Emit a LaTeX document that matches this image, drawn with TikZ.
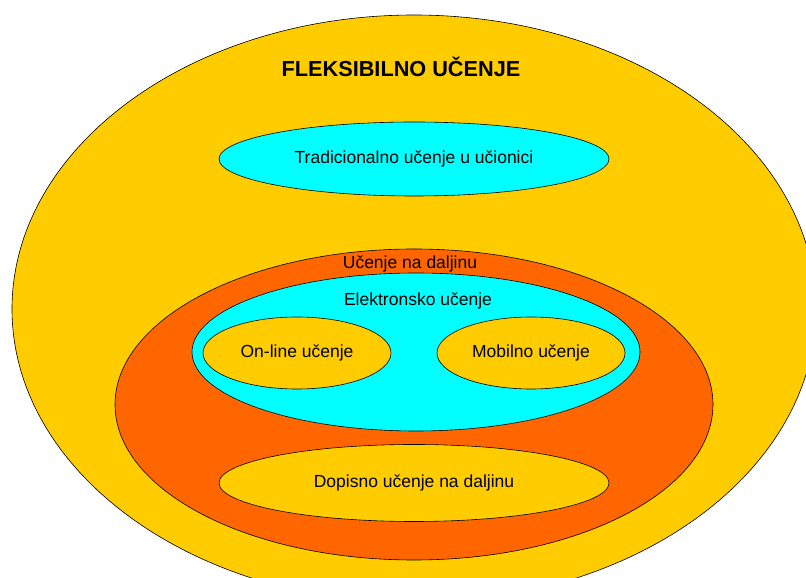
\documentclass[tikz,border=0pt]{standalone}
\usepackage{fontspec}
\setmainfont{Liberation Sans}
\usepackage{tikz}
\usetikzlibrary{shapes.geometric}
\definecolor{flexYellow}{HTML}{FFCC00}
\definecolor{distOrange}{HTML}{FF6600}
\definecolor{elCyan}{HTML}{00FFFF}
\begin{document}
\begin{tikzpicture}[x=1pt,y=1pt,font=\fontsize{17.5}{20}\selectfont,
  area/.style={draw,ellipse,line width=0.6pt,inner sep=0pt}]
\useasboundingbox (0,0) rectangle (806,578);
\clip (0,0) rectangle (806,578);
% flexible learning
\node[area,fill=flexYellow,minimum width=804,minimum height=588] (flex) at (414,269) {};
\node[font=\fontsize{21.7}{24}\selectfont\bfseries] (flexT) at (401,511) {FLEKSIBILNO UČENJE};
\node[area,fill=elCyan,minimum width=390,minimum height=74] (trad) at (414,419) {Tradicionalno učenje u učionici};
% distance learning
\node[area,fill=distOrange,minimum width=598,minimum height=311] (dist) at (414,173.5) {};
\node (distT) at (410,314) {Učenje na daljinu};
% e-learning
\node[area,fill=elCyan,minimum width=448,minimum height=158] (elec) at (416,226) {};
\node (elecT) at (418,277) {Elektronsko učenje};
\node[area,fill=flexYellow,minimum width=188,minimum height=72] (online) at (297,225) {On-line učenje};
\node[area,fill=flexYellow,minimum width=188,minimum height=72] (mobile) at (531,225) {Mobilno učenje};
% correspondence
\node[area,fill=flexYellow,minimum width=390,minimum height=77] (corr) at (414,95) {Dopisno učenje na daljinu};
\end{tikzpicture}
\end{document}
